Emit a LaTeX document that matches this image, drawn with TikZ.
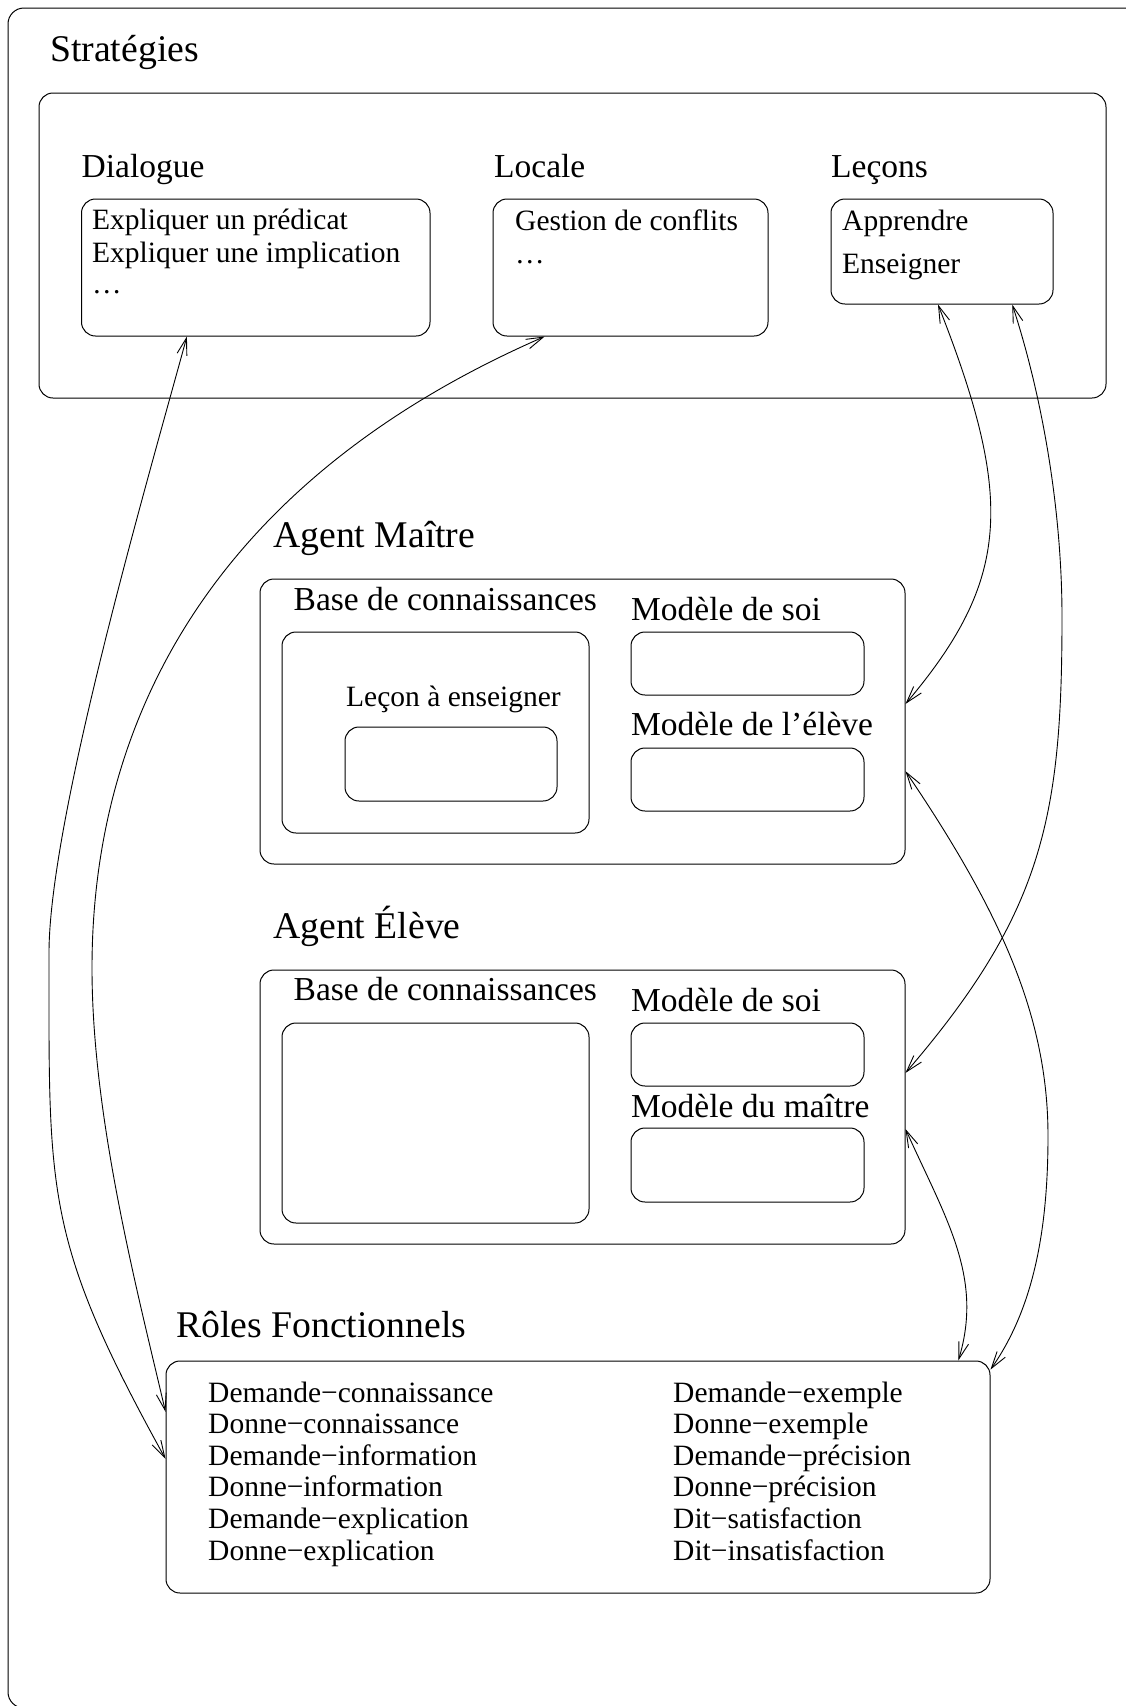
\documentclass[tikz,border=0pt]{standalone}
\usepackage{fontspec}
\setmainfont{Liberation Serif}
\usetikzlibrary{arrows.meta,fit,calc}
\begin{document}
\begin{tikzpicture}[x=1pt,y=-1pt,
 box/.style={draw, rounded corners=14pt, inner sep=0pt, line width=1pt},
 big/.style={anchor=base west, inner sep=0pt, font=\fontsize{37.7}{40}\selectfont},
 mid/.style={anchor=base west, inner sep=0pt, font=\fontsize{33.5}{36}\selectfont},
 sml/.style={anchor=base west, inner sep=0pt, font=\fontsize{29.5}{32}\selectfont},
 >={Straight Barb[length=17pt,width=10pt]},
 link/.style={line width=0.9pt, <->}
]
\useasboundingbox (0,0) rectangle (1126,1706);
\begin{scope}
\clip (0,0) rectangle (1126,1706);
\node[box, rounded corners=16pt, fit={(8,8) (1160,1708)}] (outer) {};
\end{scope}
\node[big] (tstrat) at (50,61) {Stratégies};
\node[box, fit={(39,93) (1106,398)}] (strat) {};
% Dialogue
\node[mid] (tdial) at (81.5,177) {Dialogue};
\node[box, fit={(81.5,199) (430,336)}] (dial) {};
\node[sml] (d1) at (92,229) {Expliquer un prédicat};
\node[sml] (d2) at (92,262) {Expliquer une implication};
\node[sml] (d3) at (92,293) {…};
% Locale
\node[mid] (tloc) at (494,177) {Locale};
\node[box, fit={(493,199) (768,336)}] (loc) {};
\node[sml] (l1) at (515,230) {Gestion de conflits};
\node[sml] (l2) at (515,263) {…};
% Lecons
\node[mid] (tlec) at (831,177) {Leçons};
\node[box, fit={(831,199) (1053,304)}] (lec) {};
\node[sml] (c1) at (842,230) {Apprendre};
\node[sml] (c2) at (842,273) {Enseigner};
% Agent Maitre
\node[big] (tma) at (273,547) {Agent Maître};
\node[box, fit={(260,579) (905,864)}] (ma) {};
\node[mid] (tmakb) at (293.5,610) {Base de connaissances};
\node[box, fit={(282,632) (589,833)}] (makb) {};
\node[sml] (tmalec) at (346,706) {Leçon à enseigner};
\node[box, fit={(345,727) (557,801)}] (malec) {};
\node[mid] (tmasoi) at (631,620) {Modèle de soi};
\node[box, fit={(631,632) (864,695)}] (masoi) {};
\node[mid] (tmael) at (631,735) {Modèle de l’élève};
\node[box, fit={(631,748) (864,811)}] (mael) {};
% Agent Eleve
\node[big] (tel) at (273,938) {Agent Élève};
\node[box, fit={(260,970) (905,1244)}] (el) {};
\node[mid] (telkb) at (293.5,1000) {Base de connaissances};
\node[box, fit={(282,1023) (589,1223)}] (elkb) {};
\node[mid] (telsoi) at (631,1011) {Modèle de soi};
\node[box, fit={(631,1023) (864,1086)}] (elsoi) {};
\node[mid] (telma) at (631,1117) {Modèle du maître};
\node[box, fit={(631,1128) (864,1202)}] (elma) {};
% Roles
\node[big] (trol) at (176,1337) {Rôles Fonctionnels};
\node[box, fit={(166,1361) (990,1593)}] (rol) {};
\node[sml] (r1) at (208,1402) {Demande−connaissance};
\node[sml] (r2) at (208,1433.6) {Donne−connaissance};
\node[sml] (r3) at (208,1465.2) {Demande−information};
\node[sml] (r4) at (208,1496.8) {Donne−information};
\node[sml] (r5) at (208,1528.4) {Demande−explication};
\node[sml] (r6) at (208,1560) {Donne−explication};
\node[sml] (s1) at (673,1402) {Demande−exemple};
\node[sml] (s2) at (673,1433.6) {Donne−exemple};
\node[sml] (s3) at (673,1465.2) {Demande−précision};
\node[sml] (s4) at (673,1496.8) {Donne−précision};
\node[sml] (s5) at (673,1528.4) {Dit−satisfaction};
\node[sml] (s6) at (673,1560) {Dit−insatisfaction};
% connectors
\draw[link] ($(dial.south west)!0.303!(dial.south east)$)
  .. controls (150,472) and (49,818) .. (49,953)
  .. controls (49,1193) and (44,1239) .. ($(rol.north west)!0.422!(rol.south west)$);
\draw[link] ($(loc.south west)!0.189!(loc.south east)$)
  .. controls (202,486) and (92,732) .. (92,968)
  .. controls (92,1118) and (137.5,1292) .. ($(rol.north west)!0.22!(rol.south west)$);
\draw[link] ($(lec.south west)!0.482!(lec.south east)$)
  .. controls (1015,500) and (1010,580) .. ($(ma.north east)!0.4386!(ma.south east)$);
\draw[link] ($(lec.south west)!0.815!(lec.south east)$)
  .. controls (1044.6,404) and (1062,517) .. (1062,617)
  .. controls (1062,817) and (1043,913) .. ($(el.north east)!0.376!(el.south east)$);
\draw[link] ($(ma.north east)!0.6737!(ma.south east)$)
  .. controls (1000,911) and (1048,1016) .. (1048,1136)
  .. controls (1048,1236) and (1031.5,1311) .. ($(rol.north east)!0.039!(rol.south east)$);
\draw[link] ($(el.north east)!0.58!(el.south east)$)
  .. controls (946,1219) and (983.6,1277) .. ($(rol.north west)!0.961!(rol.north east)$);
\end{tikzpicture}
\end{document}
